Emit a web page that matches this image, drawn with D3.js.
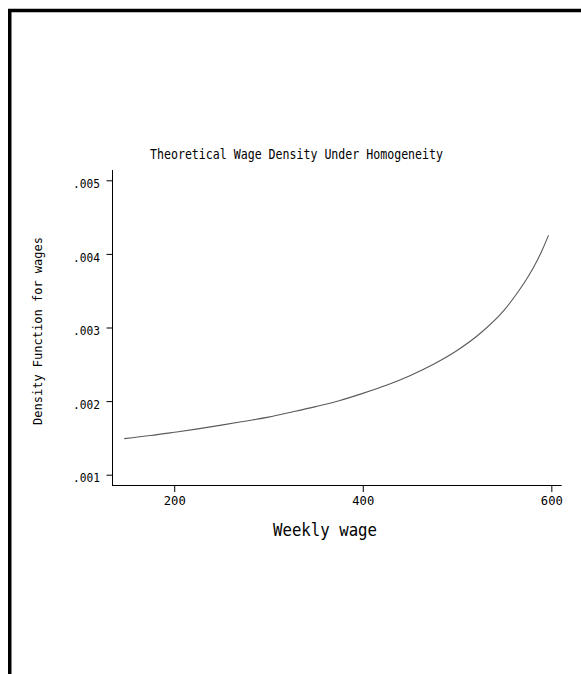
<!DOCTYPE html>
<html>
<head>
<meta charset="utf-8">
<script src="https://cdn.jsdelivr.net/npm/d3@7/dist/d3.min.js"></script>
<style>
  html, body { margin: 0; padding: 0; background: #fff; }
  svg { display: block; }
  text { font-family: "DejaVu Sans Mono", "Liberation Mono", monospace; fill: #000; }
</style>
</head>
<body>
<svg id="chart" width="581" height="674"></svg>
<script>
// ---- data ----
const wages   = [147, 175, 200, 225, 250, 275, 300, 325, 350, 375, 400, 425, 450, 475, 500, 525, 550, 565, 575, 585, 590, 597];
const density = [0.001490, 0.001532, 0.001576, 0.001622, 0.001673, 0.001727, 0.001782, 0.001852, 0.001925, 0.002005,
                 0.002105, 0.002215, 0.002345, 0.002500, 0.002687, 0.002925, 0.003236, 0.003489, 0.003682, 0.003911, 0.004043, 0.004252];
const xTicks = [200, 400, 600];
const yTicks = [0.001, 0.002, 0.003, 0.004, 0.005];
const yTickLabels = [".001", ".002", ".003", ".004", ".005"];
const titleText = "Theoretical Wage Density Under Homogeneity";
const xTitle = "Weekly wage";
const yTitle = "Density Function for wages";

const svg = d3.select("#chart");

// outer border (frame extends past right/bottom edges)
svg.append("path")
  .attr("d", "M9.75,674 L9.75,10.5 L581,10.5")
  .attr("fill", "none").attr("stroke", "#000").attr("stroke-width", 3.5);

const x = d3.scaleLinear().domain([134, 611]).range([112, 561.7]);
const y = d3.scaleLinear().domain([0.00086, 0.00514]).range([485, 170]);

// y axis
const yAxis = svg.append("g").attr("transform", "translate(112,0)")
  .call(d3.axisLeft(y).tickValues(yTicks).tickSize(6).tickPadding(6)
        .tickFormat((d, i) => yTickLabels[i]));
yAxis.select(".domain").attr("d", `M0.5,${y.range()[1]}V${y.range()[0]}`).attr("stroke", "#000");
yAxis.selectAll(".tick line").attr("stroke", "#000").attr("transform", "translate(0.5,0)");
yAxis.selectAll(".tick text")
  .attr("font-size", 13).attr("dy", "0.55em").attr("x", -12)
  .attr("textLength", 27).attr("lengthAdjust", "spacingAndGlyphs");

// x axis
const xAxis = svg.append("g").attr("transform", "translate(0,485)")
  .call(d3.axisBottom(x).tickValues(xTicks).tickSize(7).tickPadding(3)
        .tickFormat(d3.format("d")));
xAxis.select(".domain").attr("d", `M${x.range()[0]},0.5H${x.range()[1]}`).attr("stroke", "#000");
xAxis.selectAll(".tick line").attr("stroke", "#000");
xAxis.selectAll(".tick text")
  .attr("font-size", 13).attr("dy", "0.8em")
  .attr("textLength", 22).attr("lengthAdjust", "spacingAndGlyphs");

svg.selectAll(".domain, .tick line").attr("stroke-width", 1);

// curve
const line = d3.line().curve(d3.curveMonotoneX).x((d, i) => x(wages[i])).y(d => y(d));
svg.append("path").datum(density)
  .attr("d", line)
  .attr("fill", "none").attr("stroke", "#5a5a5a").attr("stroke-width", 1.1);

// title
svg.append("text")
  .attr("x", 296.5).attr("y", 158.5)
  .attr("text-anchor", "middle").attr("font-size", 13.5)
  .attr("textLength", 293).attr("lengthAdjust", "spacingAndGlyphs")
  .text(titleText);

// x title
svg.append("text")
  .attr("x", 325).attr("y", 536)
  .attr("text-anchor", "middle").attr("font-size", 17)
  .attr("textLength", 104).attr("lengthAdjust", "spacingAndGlyphs")
  .text(xTitle);

// y title
svg.append("text")
  .attr("transform", "translate(41.5,331) rotate(-90)")
  .attr("text-anchor", "middle").attr("font-size", 13)
  .attr("textLength", 188).attr("lengthAdjust", "spacingAndGlyphs")
  .text(yTitle);
</script>
</body>
</html>
